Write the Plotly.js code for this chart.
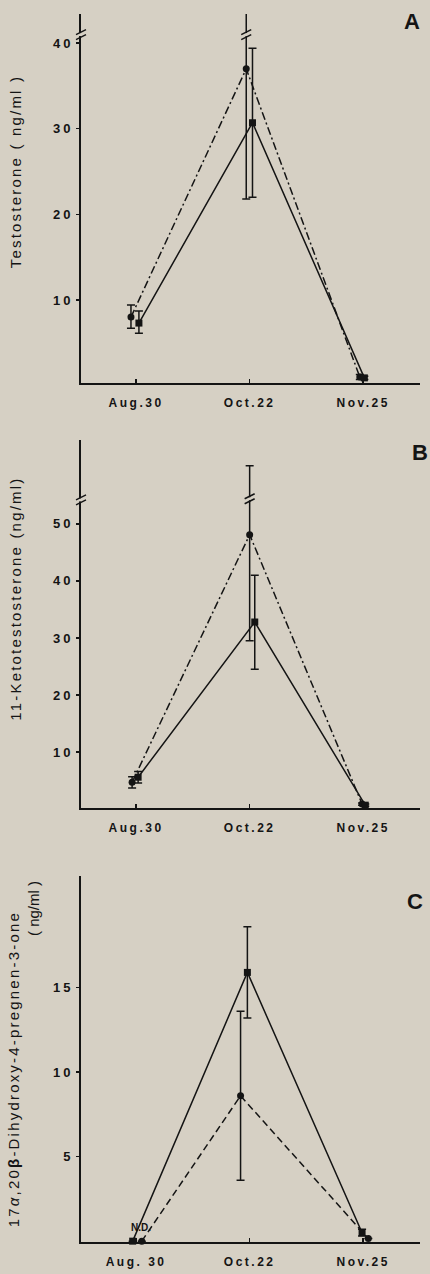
<!DOCTYPE html>
<html>
<head>
<meta charset="utf-8">
<script src="https://cdn.plot.ly/plotly-3.0.1.min.js"></script>
<style>
  html, body { margin: 0; padding: 0; background: #d6d0c4; }
  #chart { width: 430px; height: 1274px; }
  .yaxislayer-above text { letter-spacing: 3px; }
  .xaxislayer-above text { letter-spacing: 2.5px; }
  .annotation-text.ltitle { letter-spacing: 2.2px; }
</style>
</head>
<body>
<div id="chart"></div>
<script>
// ---------- data ----------
const categories  = ['Aug.30', 'Oct.22', 'Nov.25'];
const categoriesC = ['Aug. 30', 'Oct.22', 'Nov.25'];

// Panel A: Testosterone (ng/ml)
const testoDash          = [8.0, 37.0, 1.0];
const testoDashErrPlus   = [1.4, 6.7, 0.3];
const testoDashErrMinus  = [1.3, 15.2, 0.3];
const testoSolid         = [7.3, 30.7, 0.9];
const testoSolidErrPlus  = [1.4, 8.7, 0.2];
const testoSolidErrMinus = [1.2, 8.7, 0.2];

// Panel B: 11-Ketotestosterone (ng/ml)
const ketoDash           = [4.7, 48.1, 0.9];
const ketoDashErrPlus    = [1.0, 12.1, 0.2];
const ketoDashErrMinus   = [1.0, 18.6, 0.2];
const ketoSolid          = [5.6, 32.8, 0.7];
const ketoSolidErrPlus   = [1.0, 8.2, 0.2];
const ketoSolidErrMinus  = [1.0, 8.3, 0.2];

// Panel C: 17a,20b-Dihydroxy-4-pregnen-3-one (ng/ml)  (Aug.30 = N.D.)
const dhpDash            = [0, 8.6, 0.15];
const dhpDashErrPlus     = [null, 5.0, null];
const dhpDashErrMinus    = [null, 5.0, null];
const dhpSolid           = [0, 15.9, 0.5];
const dhpSolidErrPlus    = [null, 2.7, 0.2];
const dhpSolidErrMinus   = [null, 2.7, 0.2];

const tickValsA = [10, 20, 30, 40];
const tickValsB = [10, 20, 30, 40, 50];
const tickValsC = [5, 10, 15];

// ---------- style (horizontal offsets of the two series around each date) ----------
const offsets = {
  A: { dash: [-0.045, -0.03, -0.03], solid: [0.025, 0.025, 0.01] },
  B: { dash: [-0.035, 0.0, -0.01],   solid: [0.018, 0.045, 0.018] },
  C: { dash: [0.05, -0.08, 0.045],   solid: [-0.03, -0.02, -0.01] }
};
const ink = '#141414';
const bg = '#d6d0c4';
const catIdx = categories.map((c, i) => i);

function series(vals, plus, minus, offs, xa, ya, dash, symbol) {
  return {
    type: 'scatter', mode: 'lines+markers',
    x: catIdx.map((i) => i + offs[i]), y: vals,
    xaxis: xa, yaxis: ya,
    line: { color: ink, width: 1.5, dash: dash },
    marker: { color: ink, size: 7, symbol: symbol },
    error_y: { type: 'data', symmetric: false, array: plus, arrayminus: minus,
               color: ink, thickness: 1.5, width: 4 },
    cliponaxis: false, showlegend: false, hoverinfo: 'skip'
  };
}

const dashDot = '8px,3px,2px,3px';
const dashed  = '7px,4px';

const traces = [
  series(testoDash, testoDashErrPlus, testoDashErrMinus, offsets.A.dash, 'x', 'y', dashDot, 'circle'),
  series(testoSolid, testoSolidErrPlus, testoSolidErrMinus, offsets.A.solid, 'x', 'y', 'solid', 'square'),
  series(ketoDash, ketoDashErrPlus, ketoDashErrMinus, offsets.B.dash, 'x2', 'y2', dashDot, 'circle'),
  series(ketoSolid, ketoSolidErrPlus, ketoSolidErrMinus, offsets.B.solid, 'x2', 'y2', 'solid', 'square'),
  series(dhpDash, dhpDashErrPlus, dhpDashErrMinus, offsets.C.dash, 'x3', 'y3', dashed, 'circle'),
  series(dhpSolid, dhpSolidErrPlus, dhpSolidErrMinus, offsets.C.solid, 'x3', 'y3', 'solid', 'square')
];

const tickFontY = { family: 'Liberation Sans, Arial, sans-serif', size: 13, color: ink, weight: 'bold' };
const tickFontX = { family: 'Liberation Sans, Arial, sans-serif', size: 12, color: ink, weight: 'bold' };

function xAxis(anchor, labels) {
  return {
    anchor: anchor, domain: [0, 1], range: [-0.485, 2.5],
    tickvals: catIdx, ticktext: labels,
    showline: true, linecolor: ink, linewidth: 2,
    ticks: 'inside', ticklen: 4, tickwidth: 1.5, tickcolor: ink,
    ticklabelstandoff: 8,
    showgrid: false, zeroline: false, tickfont: tickFontX, fixedrange: true
  };
}
function yAxis(anchor, domain, range, tv) {
  return {
    anchor: anchor, domain: domain, range: range, tickvals: tv,
    showline: true, linecolor: ink, linewidth: 2,
    ticks: 'outside', ticklen: 3, tickwidth: 1.5, tickcolor: ink,
    showgrid: false, zeroline: false, tickfont: tickFontY, fixedrange: true
  };
}

// break marks (axis and error bar) drawn as small pixel-sized shapes
function breakMark(xref, xanchor, yref, yanchor) {
  const common = { xref: xref, yref: yref, xsizemode: 'pixel', ysizemode: 'pixel',
                   xanchor: xanchor, yanchor: yanchor, layer: 'above' };
  return [
    Object.assign({ type: 'rect', x0: -3, x1: 3, y0: -1.5, y1: 1.5,
                    fillcolor: bg, line: { width: 0 } }, common),
    Object.assign({ type: 'line', x0: -5, x1: 5, y0: -5, y1: 0, line: { color: ink, width: 1.5 } }, common),
    Object.assign({ type: 'line', x0: -5, x1: 5, y0: 0, y1: 5, line: { color: ink, width: 1.5 } }, common)
  ];
}

const shapes = [].concat(
  breakMark('paper', 0, 'y', 41.0),
  breakMark('x', 1 + offsets.A.dash[1], 'y', 41.0),
  breakMark('paper', 0, 'y2', 54.2),
  breakMark('x2', 1 + offsets.B.dash[1], 'y2', 54.4)
);

const titleFont = { family: 'Liberation Sans, Arial, sans-serif', size: 15, color: ink };
const letterFont = { family: 'Liberation Sans, Arial, sans-serif', size: 22, color: ink, weight: 'bold' };

function yTitle(text, x, y) {
  return { text: text, xref: 'paper', yref: 'paper', x: x, y: y, textangle: -90,
           showarrow: false, font: titleFont, xanchor: 'center', yanchor: 'middle' };
}
function letter(text, x, y) {
  return { text: text, xref: 'paper', yref: 'paper', x: x, y: y, showarrow: false,
           font: letterFont, xanchor: 'center', yanchor: 'middle' };
}

const annotations = [
  yTitle('Testosterone ( ng/ml )', -0.1947, 0.8721),
  yTitle('11-Ketotestosterone (ng/ml)', -0.1947, 0.5244),
  yTitle('17<i>α</i>,20<b>β</b>-Dihydroxy-4-pregnen-3-one', -0.1976, 0.1409),
  yTitle('( ng/ml )', -0.1386, 0.2712),
  letter('A', 0.9764, 0.9935),
  letter('B', 1.0, 0.6433),
  letter('C', 0.9853, 0.2769),
  { text: 'N.D.', xref: 'x3', yref: 'y3', x: 0.04, y: 0.8, showarrow: false,
    font: { family: 'Liberation Sans, Arial, sans-serif', size: 10, color: ink, weight: 'bold' },
    xanchor: 'center', yanchor: 'middle' }
];

const layout = {
  width: 430, height: 1274,
  margin: { l: 81, r: 10, t: 14, b: 32 },
  paper_bgcolor: bg, plot_bgcolor: bg,
  showlegend: false,
  xaxis:  xAxis('y', categories),
  xaxis2: xAxis('y2', categories),
  xaxis3: xAxis('y3', categoriesC),
  yaxis:  yAxis('x',  [0.6995, 1.0],   [0.3, 43.4], tickValsA),
  yaxis2: yAxis('x2', [0.3534, 0.6531], [0.2, 64.7], tickValsB),
  yaxis3: yAxis('x3', [0.0, 0.2980],    [-0.05, 21.6], tickValsC),
  shapes: shapes,
  annotations: annotations
};

Plotly.newPlot('chart', traces, layout, { staticPlot: true, displayModeBar: false }).then(() => {
  document.querySelectorAll('.annotation-text').forEach((t, i) => {
    if (i < 3) t.classList.add('ltitle');
  });
});
</script>
</body>
</html>
